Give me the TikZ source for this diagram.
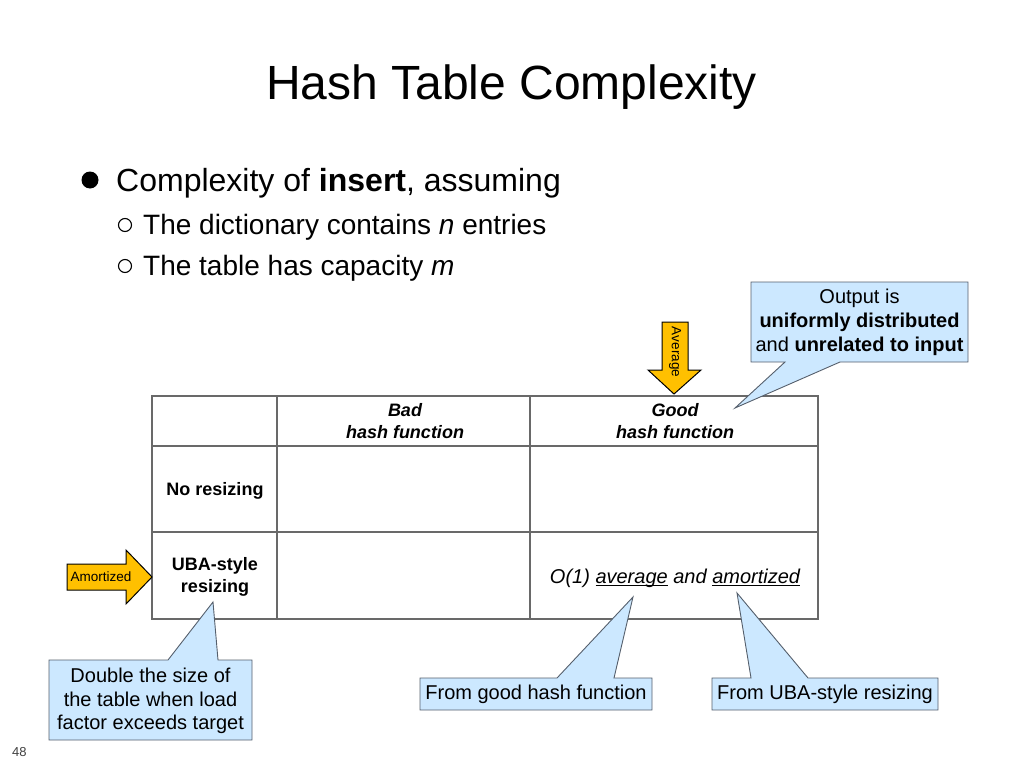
\documentclass[tikz,border=0pt]{standalone}
\usepackage{fontspec}
\setmainfont{Liberation Sans}
\definecolor{callfill}{RGB}{204,232,255}
\definecolor{callborder}{RGB}{85,95,108}
\definecolor{arrfill}{RGB}{255,192,0}
\definecolor{tabline}{RGB}{105,105,105}
\newcommand\myul[1]{\setbox0\hbox{#1}\rlap{\rule[-2.4pt]{\wd0}{0.9pt}}\box0\relax}
\begin{document}
\begin{tikzpicture}[x=1pt,y=-1pt,
  txt/.style={inner sep=0pt,align=center},
  callout/.style={fill=callfill,draw=callborder,line width=0.9pt,line join=miter},
  fatarrow/.style={fill=arrfill,draw=black,line width=1pt,line join=miter},
  grid/.style={draw=tabline,line width=1.2pt}]
\useasboundingbox (0,0) rectangle (1024,768);

% Title
\node[txt,anchor=base,font=\fontsize{48}{56}\selectfont] (title) at (511.5,99) {Hash Table Complexity};

% Bullets
\fill (90,180) circle (8.5);
\node[txt,anchor=base west,font=\fontsize{32}{38}\selectfont] (b1) at (116,191) {Complexity of \textbf{insert}, assuming};
\draw[line width=1.1pt] (125,225) circle (6.5);
\node[txt,anchor=base west,font=\fontsize{28}{34}\selectfont] (b2) at (143,234) {The dictionary contains \textit{n} entries};
\draw[line width=1.1pt] (125,266) circle (6.5);
\node[txt,anchor=base west,font=\fontsize{28}{34}\selectfont] (b3) at (143,275) {The table has capacity \textit{m}};

% Table grid
\draw[grid] (152,396) rectangle (818,619);
\draw[grid] (152,446) -- (818,446);
\draw[grid] (152,532) -- (818,532);
\draw[grid] (277,396) -- (277,619);
\draw[grid] (530,396) -- (530,619);

\node[txt,font=\fontsize{18}{22}\selectfont\bfseries\itshape] (bad) at (405,421) {Bad\\hash function};
\node[txt,font=\fontsize{18}{22}\selectfont\bfseries\itshape] (good) at (675,421) {Good\\hash function};
\node[txt,font=\fontsize{18}{22}\selectfont\bfseries] (nores) at (215,491) {No resizing};
\node[txt,font=\fontsize{18}{22}\selectfont\bfseries] (uba) at (215,577) {UBA-style\\resizing};
\node[txt,font=\fontsize{20}{24}\selectfont\itshape] (o1) at (675,578) {O(1) \myul{average} and \myul{amortized}};

% Average arrow
\draw[fatarrow] (662,322) -- (688,322) -- (688,370) -- (701,370) -- (674,394) -- (648,370) -- (662,370) -- cycle;
\node[txt,rotate=-90,font=\fontsize{13.5}{16}\selectfont] (avg) at (675,352) {Average};

% Amortized arrow
\draw[fatarrow] (67,564) -- (126,564) -- (126,550) -- (152,577) -- (126,604) -- (126,590) -- (67,590) -- cycle;
\node[txt,font=\fontsize{13.5}{16}\selectfont] (amo) at (101,577) {Amortized};

% Top-right callout
\draw[callout] (751,282) -- (968,282) -- (968,362) -- (840,362) -- (735,408) -- (785,362) -- (751,362) -- cycle;
\node[txt,font=\fontsize{20}{24}\selectfont] (c1) at (859.5,322) {Output is\\\textbf{uniformly distributed}\\and \textbf{unrelated to input}};

% Bottom-left callout
\draw[callout] (49,660) -- (168,660) -- (213,602) -- (218,660) -- (252,660) -- (252,740) -- (49,740) -- cycle;
\node[txt,font=\fontsize{20}{23.5}\selectfont] (c2) at (150.5,701) {Double the size of\\the table when load\\factor exceeds target};

% Good hash callout
\draw[callout] (420,678) -- (557,678) -- (633,597) -- (614,678) -- (652,678) -- (652,710) -- (420,710) -- cycle;
\node[txt,font=\fontsize{20}{24}\selectfont] (c3) at (536,694) {From good hash function};

% UBA callout
\draw[callout] (712,678) -- (751,678) -- (737,593) -- (808,678) -- (938,678) -- (938,710) -- (712,710) -- cycle;
\node[txt,font=\fontsize{20}{24}\selectfont] (c4) at (825,694) {From UBA-style resizing};

% Page number
\node[txt,anchor=base west,font=\fontsize{13}{16}\selectfont,text=black!75] (pg) at (12,756) {48};
\end{tikzpicture}
\end{document}
